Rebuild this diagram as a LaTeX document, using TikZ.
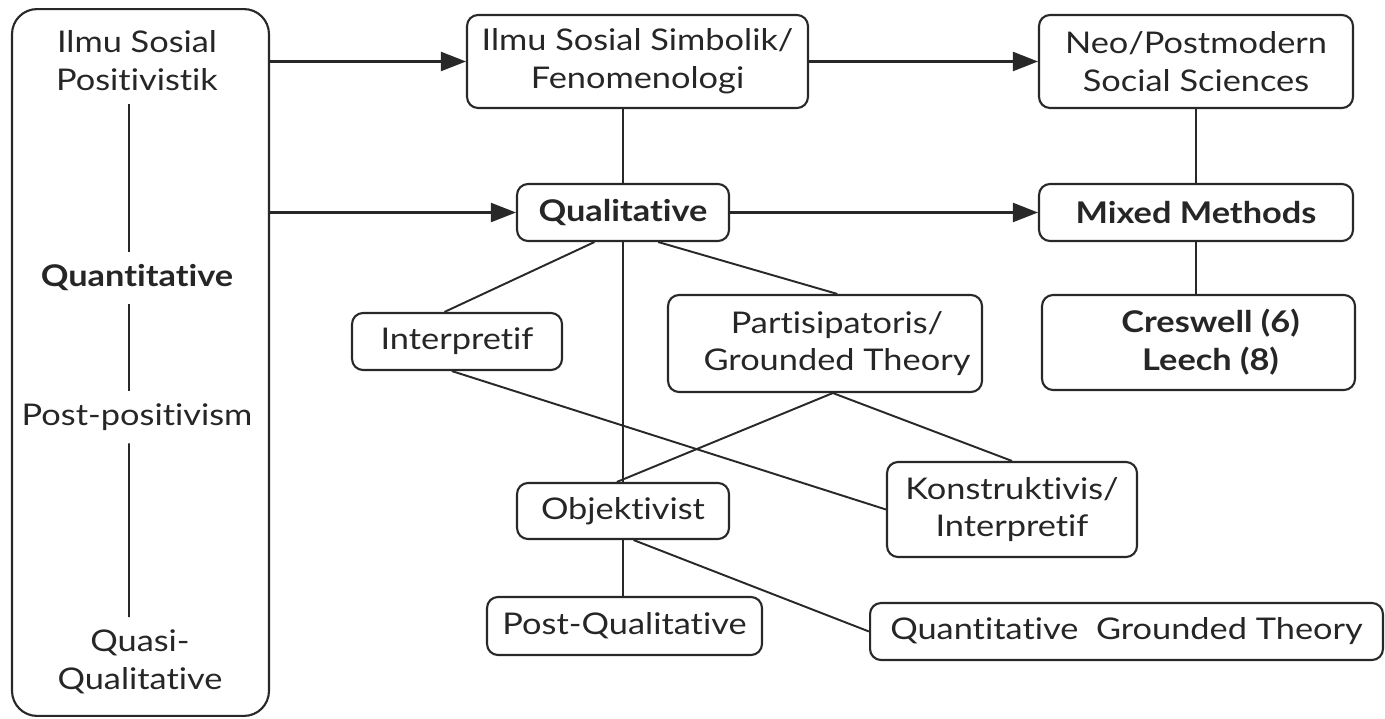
\documentclass[tikz,border=0pt]{standalone}
\usepackage{fontspec}
\setmainfont{Lato}[FakeStretch=1.15, Ligatures=NoCommon]
\usepackage{tikz}
\usetikzlibrary{arrows.meta}
\definecolor{myline}{RGB}{40,40,40}
\newcommand{\mytext}{\fontsize{17}{21.5}\selectfont}
\newcommand{\nudge}{\hspace*{0.48cm}}
\tikzstyle{box} = [draw=myline, line width=1.2pt, rounded corners=0.22cm,
    inner sep=0, align=center, font=\mytext, text=black!85]
\tikzstyle{bigbox} = [draw=myline, line width=1.2pt, rounded corners=0.5cm,
    inner sep=0, minimum width=5.14cm, minimum height=14.14cm]
\tikzstyle{plain} = [inner sep=0.25cm, align=center, font=\mytext, text=black!85]
\tikzstyle{link} = [draw=myline, line width=1.1pt]
\tikzstyle{flow} = [draw=myline, line width=1.2pt,
    -{Triangle[length=0.5cm, width=0.38cm]}]

\begin{document}
\begin{tikzpicture}[x=0.02cm, y=-0.02cm]
    \useasboundingbox (0,0) rectangle (1385,719);

    % 1. Left column: the positivistic paradigm
    \node[bigbox] (pos) at (140.5,362.5) {};
    \node[plain] (posit) at (137,61) {Ilmu Sosial\\Positivistik};
    \node[plain] (quant) at (137,278) {\textbf{Quantitative}};
    \node[plain] (postpos) at (137,417) {Post-positivism};
    \node[plain] (quasi) at (140,662) {Quasi-\\Qualitative};
    \draw[link] ([xshift=-0.16cm]posit.south) -- ([xshift=-0.16cm]quant.north);
    \draw[link] ([xshift=-0.16cm]quant.south) -- ([xshift=-0.16cm]postpos.north);
    \draw[link] ([xshift=-0.16cm]postpos.south) -- ([xshift=-0.22cm]quasi.north);

    % 2. Top rows, x = "paradigm", y = "level"
    \node[box, minimum width=6.82cm, minimum height=1.86cm] (simb) at (637.5,61.5) {Ilmu Sosial Simbolik/\\Fenomenologi};
    \node[box, minimum width=6.28cm, minimum height=1.86cm] (neo) at (1196,61.5) {Neo/Postmodern\\Social Sciences};
    \node[box, minimum width=4.24cm, minimum height=1.14cm] (qual) at (623,212.5) {\textbf{Qualitative}};
    \node[box, minimum width=6.28cm, minimum height=1.14cm] (mixed) at (1196,212.5) {\textbf{Mixed Methods}};
    \node[box, minimum width=6.26cm, minimum height=1.9cm] (cres) at (1198.5,342.5) {\nudge\textbf{Creswell (6)}\\\nudge\textbf{Leech (8)}};

    % 3. Branches under Qualitative
    \node[box, minimum width=4.2cm, minimum height=1.14cm] (interp) at (457,341.5) {Interpretif};
    \node[box, minimum width=6.28cm, minimum height=1.94cm] (partis) at (825,343.5) {\nudge Partisipatoris/\\\nudge Grounded Theory};
    \node[box, minimum width=5cm, minimum height=1.9cm] (konst) at (1012,509.5) {Konstruktivis/\\Interpretif};
    \node[box, minimum width=4.24cm, minimum height=1.12cm] (objek) at (623,511) {Objektivist};
    \node[box, minimum width=5.5cm, minimum height=1.16cm] (postq) at (624.5,626) {Post-Qualitative};
    \node[box, minimum width=10.26cm, minimum height=1.14cm] (qgt) at (1126.5,631.5) {Quantitative\ \ Grounded Theory};

    % 4. Arrows
    \draw[flow] (simb.west -| pos.east) -- (simb.west);
    \draw[flow] (qual.west -| pos.east) -- (qual.west);
    \draw[flow] (simb) -- (neo);
    \draw[flow] (qual) -- (mixed);

    % 5. Plain connections
    \draw[link] (simb.south -| qual.north) -- (qual.north);
    \draw[link] (neo.south -| mixed.north) -- (mixed.north);
    \draw[link] (mixed.south) -- (mixed.south |- cres.north);
    \draw[link] (qual.-134) -- (interp.113);
    \draw[link] (qual.-40) -- (partis.76);
    \draw[link] (qual.south) -- (objek.north);
    \draw[link] (interp.-100) -- (konst.west);
    \draw[link] (partis.-81) -- (objek.102);
    \draw[link] (partis.-81) -- (konst.north);
    \draw[link] (objek.south) -- (postq.north -| objek.south);
    \draw[link] (objek.-70) -- (qgt.west);

\end{tikzpicture}
\end{document}
